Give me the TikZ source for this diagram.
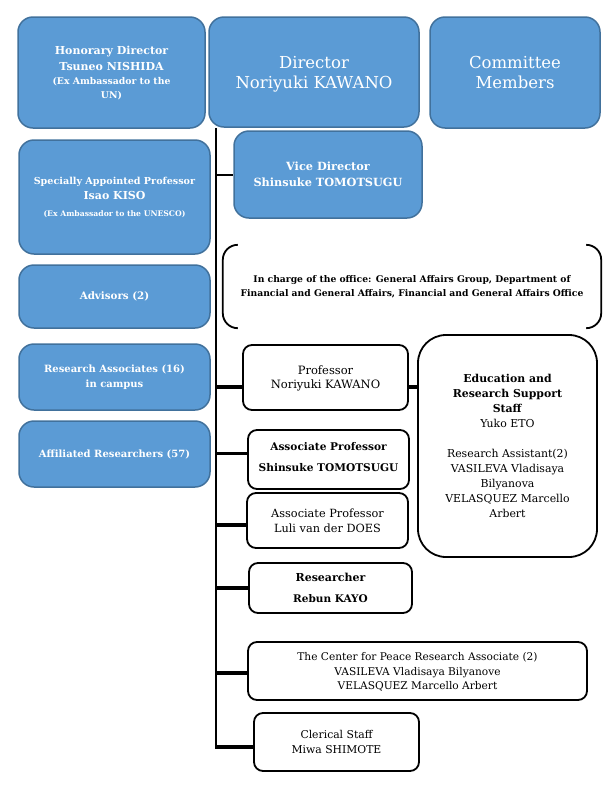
\documentclass[tikz,border=0pt]{standalone}
\usepackage{fontspec}
\setmainfont{DejaVu Serif}
\definecolor{blueF}{HTML}{5B9BD5}
\definecolor{blueD}{HTML}{41719C}
\newcommand{\fsz}[2]{\fontsize{#1}{#2}\selectfont}
\begin{document}
\begin{tikzpicture}[x=1pt,y=-1pt,
  bluebox/.style={draw=blueD, fill=blueF, line width=1.5pt, rounded corners=15pt,
    text=white, align=center, inner sep=0pt},
  blackbox/.style={draw=black, fill=white, line width=1.8pt, rounded corners=9pt,
    align=center, inner sep=0pt},
  thinconn/.style={line width=2pt},
  conn/.style={line width=3.2pt},
  bracketline/.style={line width=1.8pt}]
\useasboundingbox (0,0) rectangle (615,785);

% top row
\node[bluebox, minimum width=187pt, minimum height=111pt, text depth=-3pt, font=\bfseries\fsz{11}{14}] (hon) at (111.5,72.5)
  {Honorary Director\\[2pt] Tsuneo NISHIDA\\ {\fsz{9.3}{14}(Ex Ambassador to the}\\ {\fsz{9.3}{14}UN)}};
\node[bluebox, minimum width=210pt, minimum height=110pt, text depth=-2pt, font=\fsz{16.5}{20}] (dir) at (314,72)
  {Director\\ Noriyuki KAWANO};
\node[bluebox, minimum width=170pt, minimum height=111pt, text depth=-2pt, font=\fsz{16.5}{20}] (com) at (515,72.5)
  {Committee\\ Members};

% left column
\node[bluebox, minimum width=191pt, minimum height=114pt, font=\bfseries\fsz{9.6}{15}] (spec) at (114.5,197)
  {Specially Appointed Professor\\ {\fsz{11}{15}Isao KISO}\\[2pt]
   {\fsz{7.7}{15}(Ex Ambassador to the UNESCO)}};
\node[bluebox, minimum width=191pt, minimum height=63pt, font=\bfseries\fsz{10.3}{15}] (adv) at (114.5,296.5)
  {Advisors (2)};
\node[bluebox, minimum width=191pt, minimum height=66pt, font=\bfseries\fsz{10}{15}] (ra) at (114.5,377)
  {Research Associates (16)\\ in campus};
\node[bluebox, minimum width=191pt, minimum height=66pt, font=\bfseries\fsz{10}{15}] (aff) at (114.5,454)
  {Affiliated Researchers (57)};

% vice director
\node[bluebox, minimum width=188pt, minimum height=87pt, text depth=-4pt, font=\bfseries\fsz{11.3}{16}] (vice) at (328,174.5)
  {Vice Director\\ Shinsuke TOMOTSUGU};

% office
\node[align=center, inner sep=0pt, minimum width=378pt, minimum height=83pt, font=\bfseries\fsz{9.2}{14}] (office) at (412,286.5)
  {In charge of the office: General Affairs Group, Department of\\
   Financial and General Affairs, Financial and General Affairs Office};
\draw[bracketline] ([xshift=15pt]office.north west) arc[start angle=90, end angle=180, radius=15pt]
  -- ([yshift=15pt]office.south west) arc[start angle=180, end angle=270, radius=15pt];
\draw[bracketline] ([xshift=-15pt]office.north east) arc[start angle=90, end angle=0, radius=15pt]
  -- ([yshift=15pt]office.south east) arc[start angle=0, end angle=-90, radius=15pt];

% staff
\node[blackbox, minimum width=165pt, minimum height=65pt, text depth=-1pt, font=\fsz{11.5}{14}] (prof) at (325.5,377.5)
  {Professor\\ Noriyuki KAWANO};
\node[blackbox, rounded corners=28pt, minimum width=179pt, minimum height=222pt, text depth=-5pt, font=\fsz{10.9}{15}] (edu) at (507.5,446)
  {\textbf{Education and}\\ \textbf{Research Support}\\ \textbf{Staff}\\ Yuko ETO\\[15pt]
   Research Assistant(2)\\ VASILEVA Vladisaya\\ Bilyanova\\ VELASQUEZ Marcello\\ Arbert};
\node[blackbox, minimum width=161pt, minimum height=59pt, text depth=6pt, font=\bfseries\fsz{10.6}{21}] (asp1) at (328.5,459.5)
  {Associate Professor\\ Shinsuke TOMOTSUGU};
\node[blackbox, minimum width=161pt, minimum height=55pt, font=\fsz{11.3}{15}] (asp2) at (327.5,520.5)
  {Associate Professor\\ Luli van der DOES};
\node[blackbox, minimum width=163pt, minimum height=50pt, text depth=-4pt, font=\bfseries\fsz{11}{21}] (res) at (330.5,588)
  {Researcher\\ {\fsz{10.5}{21}Rebun KAYO}};
\node[blackbox, minimum width=339pt, minimum height=58pt, text depth=-1pt, font=\fsz{10.6}{14.5}] (cpr) at (417.5,671)
  {The Center for Peace Research Associate (2)\\
   VASILEVA Vladisaya Bilyanove\\ VELASQUEZ Marcello Arbert};
\node[blackbox, minimum width=165pt, minimum height=58pt, font=\fsz{10.8}{15}] (cler) at (336.5,742)
  {Clerical Staff\\ Miwa SHIMOTE};

% connectors
\coordinate (top) at ([xshift=8pt]dir.south west);
\coordinate (cj) at ([yshift=-5pt]cler.west);
\coordinate (bot) at (top |- cj);
\draw[thinconn] (top) -- (bot);
\draw[thinconn] (vice.west -| top) -- (vice.west);
\coordinate (pj) at ([yshift=-9.5pt]prof.west);
\coordinate (pe) at ([yshift=-9.5pt]prof.east);
\draw[conn] (pj -| top) -- (pj);
\draw[conn] (pe) -- (pe -| edu.west);
\coordinate (a1) at ([yshift=6pt]asp1.west);
\draw[conn] (a1 -| top) -- (a1);
\coordinate (a2) at ([yshift=-4.5pt]asp2.west);
\draw[conn] (a2 -| top) -- (a2);
\draw[conn] (res.west -| top) -- (res.west);
\coordinate (cp) at ([yshift=-2pt]cpr.west);
\draw[conn] (cp -| top) -- (cp);
\draw[conn] ([xshift=-1pt]bot) -- (cj);
\end{tikzpicture}
\end{document}
